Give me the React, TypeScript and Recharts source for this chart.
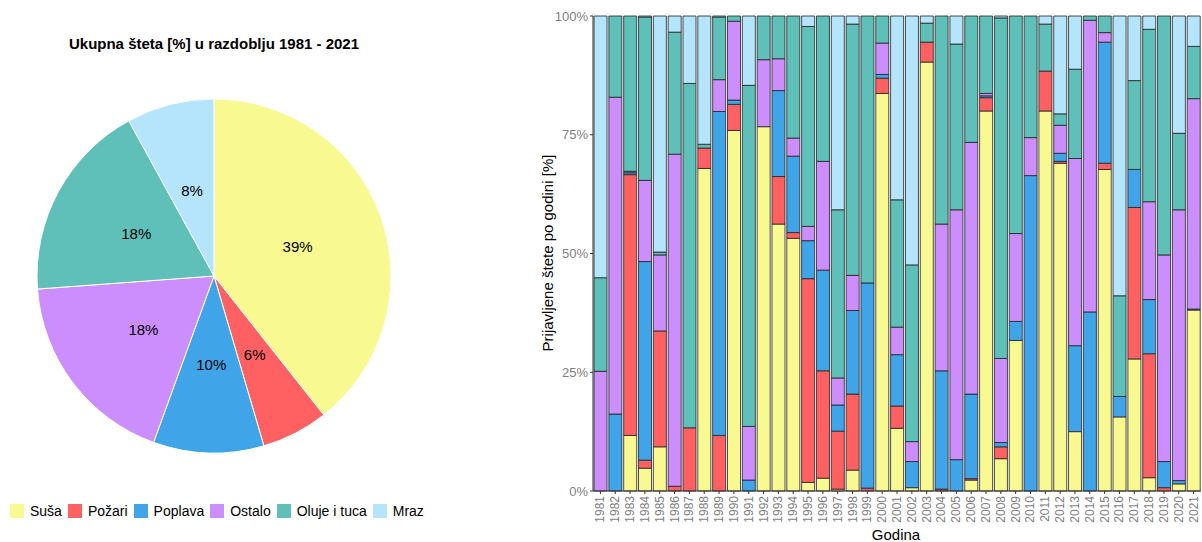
import React from 'react';
import {
  PieChart,
  Pie,
  Cell,
  BarChart,
  Bar,
  XAxis,
  YAxis,
} from 'recharts';

const categories = ['Suša', 'Požari', 'Poplava', 'Ostalo', 'Oluje i tuca', 'Mraz'];
const colors = ['#F9F992', '#FF6163', '#40A4E8', '#CC8EFC', '#5EC0B9', '#B5E5FD'];

// ukupni udio po kategoriji [%]
const totalShare = [39.4, 6.1, 10.1, 18.3, 18.2, 8.0];

const years = [
  1981, 1982, 1983, 1984, 1985, 1986, 1987, 1988, 1989, 1990,
  1991, 1992, 1993, 1994, 1995, 1996, 1997, 1998, 1999, 2000,
  2001, 2002, 2003, 2004, 2005, 2006, 2007, 2008, 2009, 2010,
  2011, 2012, 2013, 2014, 2015, 2016, 2017, 2018, 2019, 2020, 2021,
];

const susa = [
  0, 0, 11.7, 4.8, 9.3, 0, 0, 67.9, 0, 75.9,
  0, 76.7, 56.2, 53.2, 1.8, 2.7, 0.4, 4.4, 0, 83.7,
  13.2, 0.7, 90.3, 0, 0, 2.3, 80.0, 6.8, 31.7, 0,
  80.0, 69.0, 12.5, 0, 67.7, 15.6, 27.8, 2.8, 0, 1.5, 38.1,
];
const pozari = [
  0, 0, 54.9, 1.7, 24.4, 1.0, 13.3, 4.3, 11.7, 5.5,
  0, 0, 10.0, 1.2, 42.9, 22.6, 12.2, 16.0, 0.6, 3.2,
  4.7, 0, 4.2, 0.4, 0, 0.3, 2.8, 2.5, 0, 0,
  8.4, 0.4, 0, 0, 1.3, 0, 31.9, 26.1, 0.7, 0, 0,
];
const poplava = [
  0, 16.2, 0.4, 41.8, 0, 0, 0, 0, 68.2, 0.9,
  2.3, 0, 18.1, 16.1, 8.0, 21.2, 5.5, 17.6, 43.2, 0.8,
  10.8, 5.5, 0, 24.9, 6.6, 17.8, 0.4, 0.9, 4.0, 66.4,
  0, 1.7, 18.1, 37.7, 25.5, 4.3, 8.0, 11.4, 5.5, 0.7, 0.2,
];
const ostalo = [
  25.2, 66.7, 0.3, 17.1, 16.0, 69.9, 0, 0, 6.7, 16.6,
  11.3, 14.1, 6.7, 3.8, 3.0, 22.9, 5.7, 7.4, 0, 6.6,
  5.8, 4.2, 0, 30.9, 52.6, 53.0, 0.5, 17.7, 18.5, 8.0,
  0, 5.9, 39.4, 61.4, 2.0, 0, 0, 20.6, 43.5, 57.0, 44.3,
];
const oluje = [
  19.7, 17.1, 32.7, 34.4, 0.6, 25.7, 72.5, 0.8, 13.2, 1.1,
  71.8, 9.2, 9.0, 25.7, 42.1, 30.6, 35.4, 52.9, 56.2, 5.7,
  26.8, 37.2, 4.0, 43.8, 34.9, 26.6, 16.3, 71.7, 45.8, 25.6,
  9.9, 2.4, 18.8, 0.9, 3.5, 21.2, 18.7, 36.3, 50.3, 16.1, 11.0,
];
const mraz = [
  55.1, 0, 0, 0.2, 49.7, 3.4, 14.2, 27.0, 0.2, 0,
  14.6, 0, 0, 0, 2.2, 0, 40.8, 1.7, 0, 0,
  38.7, 52.4, 1.5, 0, 5.9, 0, 0, 0.4, 0, 0,
  1.7, 20.6, 11.2, 0, 0, 58.9, 13.6, 2.8, 0, 24.7, 6.4,
];

const seriesValues = [susa, pozari, poplava, ostalo, oluje, mraz];
const seriesKeys = ['susa', 'pozari', 'poplava', 'ostalo', 'oluje', 'mraz'];

const pieData = categories.map((name, i) => ({ name, value: totalShare[i] }));
const barData = years.map((year, i) => {
  const row: Record<string, number | string> = { godina: String(year) };
  seriesKeys.forEach((k, j) => {
    row[k] = seriesValues[j][i];
  });
  return row;
});

const FONT = '"Liberation Sans", Arial, sans-serif';
const RAD = Math.PI / 180;

const renderPieLabel = (props: any) => {
  const { cx, cy, midAngle, outerRadius, percent } = props;
  const r = outerRadius * 0.5;
  const x = cx + r * Math.cos(-midAngle * RAD);
  const y = cy + r * Math.sin(-midAngle * RAD);
  return (
    <text x={x} y={y} textAnchor="middle" dominantBaseline="central" fill="#000" fontSize={15} fontFamily={FONT}>
      {Math.round(percent * 100)}%
    </text>
  );
};

const YearTick = (props: any) => {
  const { x, y, payload } = props;
  return (
    <g transform={`translate(${x},${y})`}>
      <text
        x={0}
        y={0}
        dy={4}
        textAnchor="end"
        transform="rotate(-90)"
        fill="#7F7F7F"
        fontSize={12}
        fontFamily={FONT}
      >
        {payload.value}
      </text>
    </g>
  );
};

const App: React.FC = () => {
  return (
    <div style={{ position: 'absolute', left: 0, top: 0, width: 1202, height: 542, background: '#fff', fontFamily: FONT }}>
      <div style={{ position: 'absolute', left: 0, top: 35, width: 428, textAlign: 'center', fontSize: 15, fontWeight: 'bold', color: '#000' }}>
        Ukupna šteta [%] u razdoblju 1981 - 2021
      </div>

      <div style={{ position: 'absolute', left: 0, top: 0 }}>
        <PieChart width={430} height={480} margin={{ top: 0, right: 0, bottom: 0, left: 0 }}>
          <Pie
            data={pieData}
            dataKey="value"
            nameKey="name"
            cx={214}
            cy={276}
            outerRadius={177}
            startAngle={90}
            endAngle={-270}
            stroke="#fff"
            strokeWidth={1}
            label={renderPieLabel}
            labelLine={false}
            isAnimationActive={false}
          >
            {pieData.map((d, i) => (
              <Cell key={d.name} fill={colors[i]} />
            ))}
          </Pie>
        </PieChart>
      </div>

      <div style={{ position: 'absolute', left: 10, top: 503, display: 'flex', alignItems: 'center', fontSize: 14, color: '#000' }}>
        {categories.map((c, i) => (
          <div key={c} style={{ display: 'flex', alignItems: 'center', marginRight: 6 }}>
            <span style={{ display: 'inline-block', width: 14, height: 14, background: colors[i], marginRight: 6 }} />
            <span>{c}</span>
          </div>
        ))}
      </div>

      <div style={{ position: 'absolute', left: 520, top: 0 }}>
        <BarChart
          width={682}
          height={542}
          data={barData}
          stackOffset="expand"
          barCategoryGap="7%"
          margin={{ top: 16, right: 1, left: 0, bottom: 0 }}
        >
          <XAxis
            dataKey="godina"
            interval={0}
            height={51}
            tick={<YearTick />}
            tickSize={3}
            tickMargin={2}
            stroke="#333"
            tickLine={{ stroke: '#333' }}
          />
          <YAxis
            width={73}
            domain={[0, 1]}
            ticks={[0, 0.25, 0.5, 0.75, 1]}
            tickFormatter={(v: number) => `${Math.round(v * 100)}%`}
            tick={{ fill: '#7F7F7F', fontSize: 13, fontFamily: FONT }}
            tickSize={3}
            tickMargin={2}
            stroke="#333"
          />
          {seriesKeys.map((k, i) => (
            <Bar
              key={k}
              dataKey={k}
              name={categories[i]}
              stackId="1"
              fill={colors[i]}
              stroke="#222"
              strokeWidth={0.8}
              isAnimationActive={false}
            />
          ))}
        </BarChart>
      </div>

      <div style={{ position: 'absolute', left: 547, top: 253, transform: 'translate(-50%, -50%) rotate(-90deg)', whiteSpace: 'nowrap', fontSize: 15, color: '#000' }}>
        Prijavljene štete po godini [%]
      </div>
      <div style={{ position: 'absolute', left: 896, top: 534, transform: 'translate(-50%, -50%)', fontSize: 15, color: '#000' }}>
        Godina
      </div>
    </div>
  );
};

export default App;
